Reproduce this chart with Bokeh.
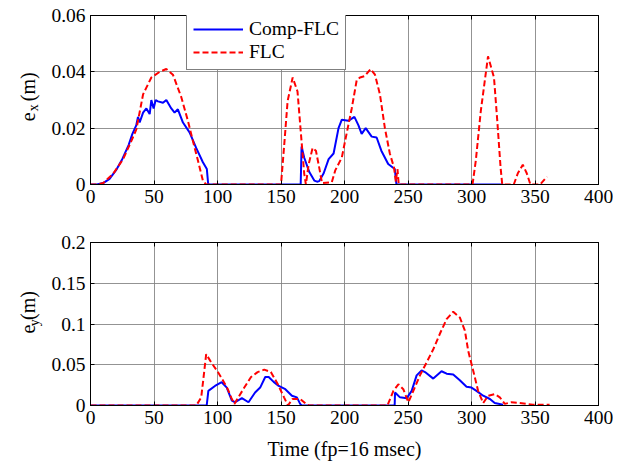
import math
from bokeh.plotting import figure
from bokeh.layouts import column, row
from bokeh.models import Range1d, FixedTicker, LinearAxis, Label, Legend, LegendItem
from bokeh.embed import file_html
from bokeh.resources import INLINE

# ---------------- data ----------------
ex_comp_t = [0, 5, 10, 15, 20, 25, 30, 33, 36, 37.4, 38.7, 41.4, 44, 46.6, 47.9, 49.7, 51.3, 53.1,
             57.1, 59.7, 63.6, 66.2, 68.8, 72.8, 78, 83.2, 88.5, 91.6, 92.7, 165.5, 166.2, 168.3,
             172.3, 176.2, 178.4, 180.1, 183.6, 187.5, 191.4, 195.3, 197.9, 203, 207.8, 211, 213.5,
             216.7, 221.4, 225.3, 229, 234.4, 239.6, 240.9, 325]
ex_comp_v = [0, 0, 0.0005, 0.002, 0.005, 0.009, 0.014, 0.018, 0.021, 0.024, 0.022, 0.0255, 0.027,
             0.025, 0.030, 0.027, 0.030, 0.0295, 0.029, 0.030, 0.027, 0.0255, 0.0267, 0.022, 0.0185,
             0.013, 0.0079, 0.0055, 0, 0, 0.0135, 0.0095, 0.0044, 0.0014, 0.001, 0.0012, 0.004, 0.009,
             0.011, 0.020, 0.023, 0.0226, 0.024, 0.021, 0.018, 0.020, 0.017, 0.0167, 0.012, 0.0073,
             0.0055, 0, 0]

ex_flc_t = [0, 4.7, 10, 17.8, 25.7, 32.2, 36.1, 41.4, 44, 47.9, 54.5, 59.7, 64.9, 71.5, 76.7, 80.6,
            84.6, 88.5, 91, 150, 152.6, 155.2, 159.2, 163, 165.7, 168.3, 169.6, 171.7, 174.9, 177.5,
            180.1, 182.3, 190, 192.7, 197.9, 200.5, 205.7, 209.6, 212.2, 216, 220.6, 224, 227.9,
            231.8, 235.7, 239, 240.4, 241.7, 242.7, 300.8, 303.4, 307.3, 313, 317.7, 320.3, 322.9,
            324.2, 333.3, 336.5, 340.4, 343.5, 346.4, 354, 359.4]
ex_flc_v = [0, 0, 0.0005, 0.0038, 0.009, 0.0155, 0.0196, 0.032, 0.0344, 0.038, 0.040, 0.041, 0.039,
            0.031, 0.0226, 0.0155, 0.0085, 0.0014, 0, 0, 0.0144, 0.0296, 0.038, 0.033, 0.018, 0.0038,
            0, 0.007, 0.013, 0.012, 0.006, 0.0005, 0.0008, 0.005, 0.0096, 0.0155, 0.027, 0.037,
            0.038, 0.0385, 0.041, 0.039, 0.032, 0.020, 0.011, 0.006, 0.001, 0.0055, 0, 0, 0.0085,
            0.026, 0.0455, 0.038, 0.0226, 0.006, 0, 0, 0.004, 0.007, 0.004, 0, 0, 0.0028]

ey_comp_t = [0, 91.5, 92.8, 98, 103.3, 107.3, 111.3, 113.9, 119.2, 124.4, 129.6, 133.6, 137.6, 140.3,
             144.2, 148.2, 153.4, 158.6, 162.5, 165.1, 166.2, 239.5, 239.8, 243.7, 249, 252.9, 256.8,
             260.7, 263.4, 269.9, 276.4, 280.4, 285.6, 290.8, 296.1, 300, 303.9, 309.2, 314.5, 318.3,
             324.9]
ey_comp_v = [0, 0, 0.018, 0.024, 0.0286, 0.022, 0.006, 0.004, 0.009, 0.004, 0.016, 0.022, 0.035,
             0.035, 0.029, 0.024, 0.020, 0.012, 0.010, 0.002, 0, 0, 0.016, 0.010, 0.009, 0.018,
             0.037, 0.043, 0.041, 0.033, 0.042, 0.039, 0.038, 0.031, 0.023, 0.022, 0.018, 0.012,
             0.008, 0.003, 0.001]

ey_flc_t = [0, 83.3, 87.2, 91.1, 95, 100.3, 104.2, 108.1, 110.7, 113.3, 117.2, 121.1, 126.4, 131.6,
            136.8, 142, 147.2, 152.4, 155.5, 159, 165.2, 170.4, 172, 233.8, 238.5, 242.4, 246.3,
            250.3, 254.2, 259.4, 264.7, 269.9, 275.1, 280.4, 285.6, 290.8, 294.8, 297.4, 301.3,
            305.2, 309.2, 313.1, 318.3, 322.3, 326.2, 331.4, 338, 348.4, 361.5]
ey_flc_v = [0, 0, 0.010, 0.063, 0.053, 0.041, 0.031, 0.020, 0.010, 0.002, 0.012, 0.022, 0.035, 0.041,
            0.044, 0.041, 0.027, 0.010, 0, 0.008, 0.008, 0.001, 0, 0, 0.018, 0.026, 0.020, 0.004,
            0.018, 0.037, 0.053, 0.069, 0.088, 0.106, 0.115, 0.108, 0.092, 0.067, 0.043, 0.018,
            0.003, 0.012, 0.014, 0.010, 0.002, 0.004, 0.003, 0.001, 0.001]

x_ticks = [0, 50, 100, 150, 200, 250, 300, 350, 400]
ex_ticks = [0, 0.02, 0.04, 0.06]
ex_tick_labels = ["0", "0.02", "0.04", "0.06"]
ey_ticks = [0, 0.05, 0.1, 0.15, 0.2]
ey_tick_labels = ["0", "0.05", "0.1", "0.15", "0.2"]
series_names = ["Comp-FLC", "FLC"]
x_label = "Time (fp=16 msec)"

FONT = "Liberation Serif"
TICK_FS = "19.5px"
BLUE = "#0000FF"
RED = "#FF0000"

LAB_W = 48      # width of the strip holding the y-axis titles
MAIN_W = 565
TOP_H = 210
BOT_H = 256


def style(p, yticks, ylabels):
    p.outline_line_color = "black"
    p.outline_line_width = 1
    p.background_fill_color = "white"
    p.border_fill_color = "white"
    p.xaxis.ticker = FixedTicker(ticks=x_ticks)
    p.yaxis.ticker = FixedTicker(ticks=yticks)
    p.yaxis.major_label_overrides = {t: l for t, l in zip(yticks, ylabels)}
    for ax in [p.below[0], p.left[0]]:
        ax.major_label_text_font = FONT
        ax.major_label_text_font_size = TICK_FS
        ax.major_label_text_color = "black"
        ax.major_tick_in = 4
        ax.major_tick_out = 0
        ax.minor_tick_in = 0
        ax.minor_tick_out = 0
        ax.axis_line_color = "black"
        ax.major_tick_line_color = "black"
        ax.major_label_standoff = 5
    p.xgrid.ticker = FixedTicker(ticks=x_ticks)
    p.ygrid.ticker = FixedTicker(ticks=yticks)
    p.grid.grid_line_color = "#808080"
    p.grid.grid_line_width = 1
    p.grid.grid_line_alpha = 0.85
    top = LinearAxis(ticker=FixedTicker(ticks=x_ticks), major_tick_in=4, major_tick_out=0,
                     minor_tick_in=0, minor_tick_out=0, major_label_text_color=None,
                     major_label_text_font_size="1px", major_label_standoff=0,
                     axis_line_color="black")
    right = LinearAxis(ticker=FixedTicker(ticks=yticks), major_tick_in=4, major_tick_out=0,
                       minor_tick_in=0, minor_tick_out=0, major_label_text_color=None,
                       major_label_text_font_size="1px", major_label_standoff=0,
                       axis_line_color="black")
    p.add_layout(top, "above")
    p.add_layout(right, "right")


def label_strip(h, sub, base_x, sub_base_x, e_y, sub_y, m_y):
    s = figure(width=LAB_W, height=h, output_backend="svg", toolbar_location=None,
               x_range=Range1d(0, LAB_W), y_range=Range1d(0, h),
               x_axis_type=None, y_axis_type=None,
               min_border_left=0, min_border_right=0, min_border_top=0, min_border_bottom=0)
    s.outline_line_color = None
    s.background_fill_color = "white"
    s.border_fill_color = "white"
    s.add_layout(Label(x=base_x, y=e_y, text="e", angle=math.pi / 2, text_align="center",
                       text_baseline="alphabetic", text_font=FONT, text_font_size="20px",
                       text_color="black"))
    s.add_layout(Label(x=sub_base_x, y=sub_y, text=sub, angle=math.pi / 2, text_align="center",
                       text_baseline="alphabetic", text_font=FONT, text_font_size="14px",
                       text_color="black"))
    s.add_layout(Label(x=base_x, y=m_y, text="(m)", angle=math.pi / 2, text_align="center",
                       text_baseline="alphabetic", text_font=FONT, text_font_size="20px",
                       text_color="black"))
    return s


# ---------------- top plot ----------------
p1 = figure(width=MAIN_W, height=TOP_H, output_backend="svg", toolbar_location=None,
            x_range=Range1d(0, 400), y_range=Range1d(0, 0.06),
            min_border_left=39, min_border_right=15, min_border_top=15, min_border_bottom=26)
style(p1, ex_ticks, ex_tick_labels)
r1 = p1.line(ex_comp_t, ex_comp_v, line_color=BLUE, line_width=2)
r2 = p1.line(ex_flc_t, ex_flc_v, line_color=RED, line_width=2, line_dash="6 3")

legend = Legend(items=[LegendItem(label=series_names[0], renderers=[r1]),
                       LegendItem(label=series_names[1], renderers=[r2])],
                location=(96, 114), orientation="vertical")
legend.label_text_font = FONT
legend.label_text_font_size = "19.5px"
legend.label_text_color = "black"
legend.glyph_width = 50
legend.glyph_height = 20
legend.label_height = 20
legend.label_standoff = 6
legend.spacing = 1
legend.padding = 6
legend.margin = 0
legend.border_line_color = "black"
legend.border_line_width = 1
legend.background_fill_color = "white"
legend.background_fill_alpha = 1
p1.add_layout(legend, "center")

s1 = label_strip(TOP_H, "x", 27, 33, 84, 95.5, 121.5)

# ---------------- bottom plot ----------------
p2 = figure(width=MAIN_W, height=BOT_H, output_backend="svg", toolbar_location=None,
            x_range=Range1d(0, 400), y_range=Range1d(0, 0.2),
            min_border_left=39, min_border_right=15, min_border_top=32, min_border_bottom=61)
style(p2, ey_ticks, ey_tick_labels)
p2.line(ey_comp_t, ey_comp_v, line_color=BLUE, line_width=2)
p2.line(ey_flc_t, ey_flc_v, line_color=RED, line_width=2, line_dash="6 3")
xax = p2.below[0]
xax.axis_label = x_label
xax.axis_label_text_font = FONT
xax.axis_label_text_font_size = "20px"
xax.axis_label_text_font_style = "normal"
xax.axis_label_text_color = "black"
xax.axis_label_standoff = 11

s2 = label_strip(BOT_H, "y", 27, 34, 120, 130, 157)

layout = column(row(s1, p1, spacing=0), row(s2, p2, spacing=0), spacing=0)
open("out.html", "w").write(file_html(layout, INLINE))
